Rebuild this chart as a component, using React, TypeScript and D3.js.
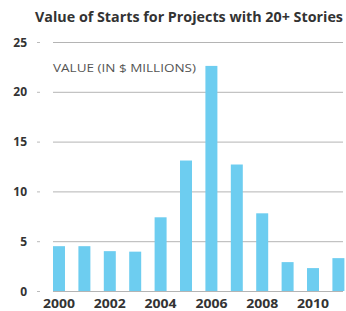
import * as d3 from 'd3';
import { useRef, useEffect } from 'react';

const years = ['2000', '2001', '2002', '2003', '2004', '2005', '2006', '2007', '2008', '2009', '2010', '2011'];
const values = [4.5, 4.5, 4.0, 3.95, 7.4, 13.1, 22.6, 12.7, 7.8, 2.9, 2.3, 3.3];
const yTicks = [0, 5, 10, 15, 20, 25];
const xLabels = ['2000', '2002', '2004', '2006', '2008', '2010'];

const W = 346;
const H = 311;

const App = () => {
  const svgRef = useRef<SVGSVGElement | null>(null);

  useEffect(() => {
    const svg = d3.select(svgRef.current);
    svg.selectAll('*').remove();

    const font = "'Open Sans', 'DejaVu Sans', sans-serif";

    const x = d3.scaleBand()
      .domain(years)
      .range([53, 344.4])
      .paddingInner(0.528)
      .paddingOuter(0);

    const y = d3.scaleLinear()
      .domain([0, 25])
      .range([291, 42]);

    // title
    svg.append('text')
      .attr('x', 35)
      .attr('y', 22)
      .attr('font-family', font)
      .attr('font-weight', 700)
      .attr('font-size', 13.5)
      .attr('fill', '#333')
      .attr('textLength', 308)
      .attr('lengthAdjust', 'spacingAndGlyphs')
      .text('Value of Starts for Projects with 20+ Stories');

    // gridlines
    svg.append('g')
      .selectAll('line')
      .data(yTicks)
      .enter()
      .append('line')
      .attr('x1', 53)
      .attr('x2', 343)
      .attr('y1', d => y(d) + 0.5)
      .attr('y2', d => y(d) + 0.5)
      .attr('stroke', '#b4b4b4')
      .attr('stroke-width', 1);

    // small tick dashes
    svg.append('g')
      .selectAll('line')
      .data(yTicks)
      .enter()
      .append('line')
      .attr('x1', 37)
      .attr('x2', 40)
      .attr('y1', d => y(d) + 0.5)
      .attr('y2', d => y(d) + 0.5)
      .attr('stroke', '#bbb')
      .attr('stroke-width', 1);

    // y labels
    svg.append('g')
      .selectAll('text')
      .data(yTicks)
      .enter()
      .append('text')
      .attr('x', 27)
      .attr('y', d => y(d) + 4.5)
      .attr('text-anchor', 'end')
      .attr('font-family', font)
      .attr('font-weight', 700)
      .attr('font-size', 12)
      .attr('fill', '#333')
      .text(d => d);

    // unit label
    svg.append('text')
      .attr('x', 53)
      .attr('y', 72)
      .attr('font-family', font)
      .attr('font-size', 11)
      .attr('fill', '#555')
      .attr('textLength', 143)
      .attr('lengthAdjust', 'spacingAndGlyphs')
      .text('VALUE (IN $ MILLIONS)');

    // bars
    svg.append('g')
      .selectAll('rect')
      .data(values)
      .enter()
      .append('rect')
      .attr('x', (_, i) => x(years[i])!)
      .attr('y', d => y(d))
      .attr('width', x.bandwidth())
      .attr('height', d => y(0) - y(d))
      .attr('fill', '#6dcdf0');

    // x labels
    svg.append('g')
      .selectAll('text')
      .data(xLabels)
      .enter()
      .append('text')
      .attr('x', d => x(d)! + x.bandwidth() / 2 - 16)
      .attr('y', 308)
      .attr('font-family', font)
      .attr('font-weight', 700)
      .attr('font-size', 12)
      .attr('fill', '#333')
      .attr('textLength', 32)
      .attr('lengthAdjust', 'spacingAndGlyphs')
      .text(d => d);
  }, []);

  return (
    <svg
      ref={svgRef}
      width={W}
      height={H}
      style={{ position: 'absolute', left: 0, top: 0, background: '#fff' }}
    />
  );
};

export default App;
